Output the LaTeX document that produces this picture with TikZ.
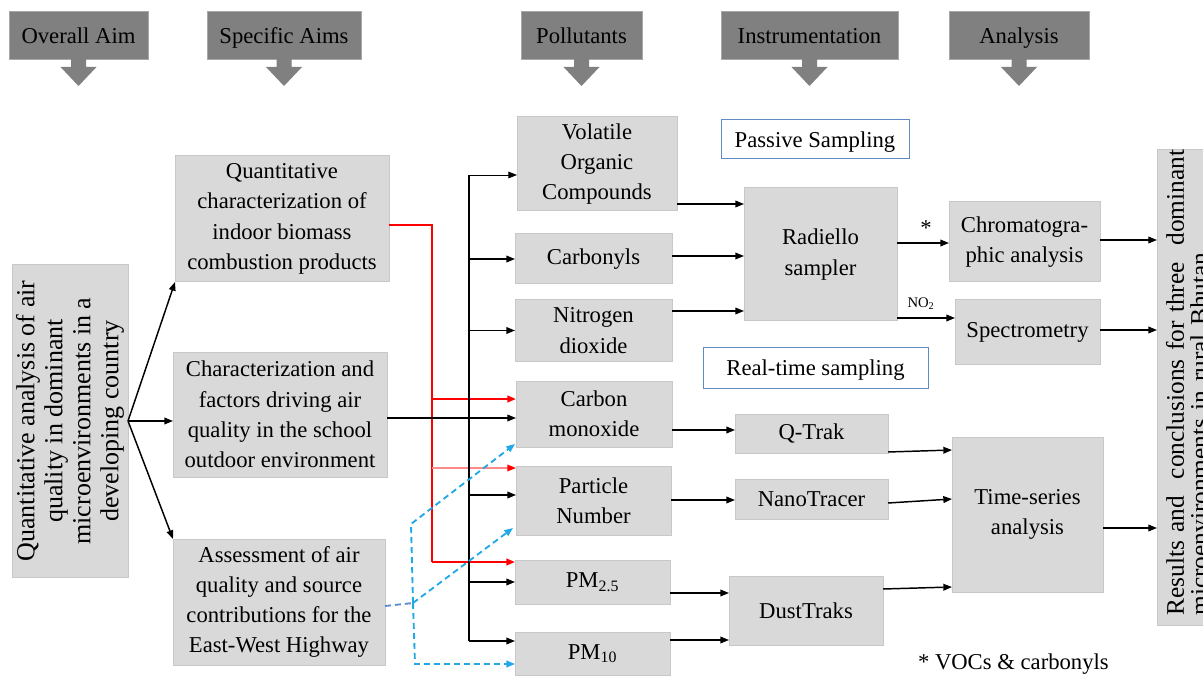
\documentclass[tikz,border=0pt]{standalone}
\usepackage{fontspec}
\setmainfont{Liberation Serif}
\usetikzlibrary{arrows.meta,calc}
\definecolor{hdr}{HTML}{808080}
\definecolor{hdrline}{HTML}{A8A8A8}
\definecolor{boxfill}{HTML}{D9D9D9}
\definecolor{boxline}{HTML}{C8C8C8}
\definecolor{lblline}{HTML}{5F8BC0}
\definecolor{redl}{HTML}{FF0000}
\definecolor{pinkl}{HTML}{FF8A8A}
\definecolor{bluel}{HTML}{22A8E6}
\definecolor{bluegray}{HTML}{5A8ED0}
\newcommand\mkbox[7][gbox]{\node[#1, minimum width={(#5-#3)*0.75pt}, minimum height={(#6-#4)*0.75pt}] (#2) at ({(#3+#5)/2},{(#4+#6)/2}) {#7};}
\begin{document}
\begin{tikzpicture}[x=0.75pt,y=-0.75pt,
  hdrbox/.style={draw=hdrline, fill=hdr, line width=0.75pt, inner sep=0pt, outer sep=0pt, text height=11.5pt, text depth=0pt, font=\fontsize{17}{20}\selectfont},
  gbox/.style={draw=boxline, fill=boxfill, line width=0.75pt, inner sep=0pt, outer sep=0pt, align=center, font=\fontsize{17}{22.7}\selectfont},
  lbl/.style={draw=lblline, fill=white, line width=0.75pt, inner sep=0pt, outer sep=0pt, text height=11.5pt, text depth=0pt, font=\fontsize{17}{20}\selectfont},
  arr/.style={draw=black, line width=1.1pt, -{Triangle[length=6.5pt,width=5pt]}},
  arrthin/.style={draw=black, line width=0.7pt, -{Triangle[length=6.5pt,width=5pt]}},
  redarr/.style={draw=redl, line width=1.5pt, -{Triangle[length=6.5pt,width=5pt]}},
  pinkarr/.style={draw=pinkl, line width=1pt, -{Triangle[length=6.5pt,width=5pt,color=redl]}},
  bluedash/.style={draw=bluel, line width=1.4pt, dash pattern=on 4.5pt off 3pt},
  bluearr/.style={bluedash, -{Triangle[length=6.5pt,width=5pt]}},
  lab/.style={inner sep=0pt, outer sep=0pt, font=\fontsize{17}{20}\selectfont}
]
\clip (0,0) rectangle (1203,677);
\fill[white] (0,0) rectangle (1203,677);

% headers
\mkbox[hdrbox]{hOA}{9}{12}{148}{60}{Overall Aim}
\mkbox[hdrbox]{hSA}{207}{12}{361}{60}{Specific Aims}
\mkbox[hdrbox]{hPO}{521}{12}{642}{60}{Pollutants}
\mkbox[hdrbox]{hIN}{721}{12}{898}{60}{Instrumentation}
\mkbox[hdrbox]{hAN}{949}{12}{1089}{60}{Analysis}
\foreach \n in {hOA,hSA,hPO,hIN,hAN}
  \fill[hdr] (\n.south) ++(-7.5,-1) -- ++(0,8) -- ++(-10.5,0) -- ++(18,19) -- ++(18,-19) -- ++(-10.5,0) -- ++(0,-8) -- cycle;

% overall aim
\node[gbox, rotate=90, minimum width={312*0.75pt}, minimum height={116*0.75pt}, font=\fontsize{19.5}{21}\selectfont] (L0) at (70,421)
  {Quantitative analysis of air\\quality in dominant\\microenvironments in a\\developing country};

% specific aims
\mkbox{S1}{175}{156}{389}{282}{Quantitative\\characterization of\\indoor biomass\\combustion products}
\mkbox{S2}{173}{352}{387}{477}{Characterization and\\factors driving air\\quality in the school\\outdoor environment}
\mkbox{S3}{173}{539}{385}{665}{Assessment of air\\quality and source\\contributions for the\\East-West Highway}

% pollutants
\mkbox{VOC}{517}{117}{677}{211}{Volatile\\Organic\\Compounds}
\mkbox{CARB}{515}{234}{672}{284}{Carbonyls}
\mkbox{NOX}{515}{300}{672}{361}{Nitrogen\\dioxide}
\mkbox{CO}{516}{381}{672}{447}{Carbon\\monoxide}
\mkbox{PN}{516}{466}{671}{535}{Particle\\Number}
\mkbox{PMa}{515}{560}{670}{604}{PM\textsubscript{2.5}}
\mkbox{PMb}{515}{632}{670}{675}{PM\textsubscript{10}}

% instrumentation
\mkbox[lbl]{PS}{721}{120}{909}{159}{Passive Sampling}
\mkbox{RAD}{744}{188}{897}{321}{Radiello\\sampler}
\mkbox[lbl]{RT}{703}{347}{928}{388}{Real-time sampling}
\mkbox{QT}{735}{414}{888}{453}{Q-Trak}
\mkbox{NT}{735}{479}{888}{519}{NanoTracer}
\mkbox{DT}{729}{576}{883}{645}{DustTraks}

% analysis
\mkbox{CHR}{949}{202}{1100}{282}{Chromatogra-\\phic analysis}
\mkbox{SPEC}{955}{300}{1100}{364}{Spectrometry}
\mkbox{TS}{952}{437}{1103}{592}{Time-series\\analysis}

% results
\node[gbox, rotate=90, minimum width={475*0.75pt}, minimum height={60*0.75pt}, text width=342pt, align=left, font=\fontsize{19}{18}\selectfont] (RES) at (1187,387.5)
  {\makebox[342pt][s]{Results and\ \ conclusions for three\ \ dominant}\\microenvironments in rural Bhutan};

% labels
\node[lab] (star) at (926,228) {*};
\node[lab, font=\fontsize{11}{13}\selectfont] (no2l) at (921,304) {NO\textsubscript{2}};
\node[lab, anchor=west] (fn) at (918,664) {* VOCs \& carbonyls};

% overall -> specific
\draw[arr] (L0.south) -- (S1.south west);
\draw[arr] (L0.south) -- (S2.west |- L0.south);
\draw[arr] (L0.south) -- (S3.north west);

% red routing
\coordinate (r0) at (432,225);
\coordinate (r1) at (432,562);
\draw[redl, line width=1.5pt] (S1.east |- r0) -- (r0) -- (r1);
\draw[redarr] (r1) -- (PMa.west |- r1);
\draw[redarr] (r0 |- 0,399) -- (CO.west |- 0,399);
\draw[pinkarr] (r0 |- 0,468) -- (PN.west |- 0,468);

% black bus
\coordinate (bt) at (469,175);
\coordinate (bb) at (469,641);
\draw[black, line width=1.1pt] (bt) -- (bb);
\draw[arrthin] (bt) -- (VOC.west |- bt);
\draw[arr] (bt |- CARB.west) -- (CARB.west);
\draw[arr] (bt |- NOX.west) -- (NOX.west);
\draw[arr] (bt |- 0,495) -- (PN.west |- 0,495);
\draw[arr] (bt |- PMa.west) -- (PMa.west);
\draw[arr] (bb) -- (PMb.west |- bb);
\draw[arr] (S2.east |- 0,418) -- (CO.west |- 0,418);

% blue dashed
\coordinate (bj) at (413,603);
\coordinate (bk) at (411,524);
\coordinate (bm) at (415,664);
\draw[bluedash, draw=bluegray] (S3.east |- 0,606) -- (bj);
\draw[bluearr] (bj) -- (bk) -- ($(CO.south west)+(-1,-3)$);
\draw[bluearr] (bj) -- ($(PN.south west)+(-3,-7)$);
\draw[bluearr] (bj) -- (bm) -- (PMb.west |- bm);

% pollutants -> instruments
\draw[arr] (VOC.east |- 0,204) -- (RAD.west |- 0,204);
\draw[arr] (CARB.east |- 0,256) -- (RAD.west |- 0,256);
\draw[arr] (NOX.east |- 0,311) -- (RAD.west |- 0,311);
\draw[arr] (CO.east |- 0,430) -- (QT.west |- 0,430);
\draw[arr] (PN.east |- 0,500) -- (NT.west |- 0,500);
\draw[arr] (PMa.east |- 0,593) -- (DT.west |- 0,593);
\draw[arr] (PMb.east |- 0,640) -- (DT.west |- 0,640);

% instruments -> analysis
\draw[arr] (RAD.east |- 0,243) -- (CHR.west |- 0,243);
\draw[arr] (RAD.east |- 0,318) -- (SPEC.west |- 0,318);
\draw[arr] (QT.east |- 0,452) -- (TS.west |- 0,450);
\draw[arr] (NT.east |- 0,503) -- (TS.west |- 0,499);
\draw[arr] (DT.east |- 0,589) -- (TS.west |- 0,587);

% analysis -> results
\draw[arr] (CHR.east |- 0,240) -- (RES.north |- 0,240);
\draw[arr] (SPEC.east |- 0,330) -- (RES.north |- 0,330);
\draw[arr] (TS.east |- 0,528) -- (RES.north |- 0,528);
\end{tikzpicture}
\end{document}
